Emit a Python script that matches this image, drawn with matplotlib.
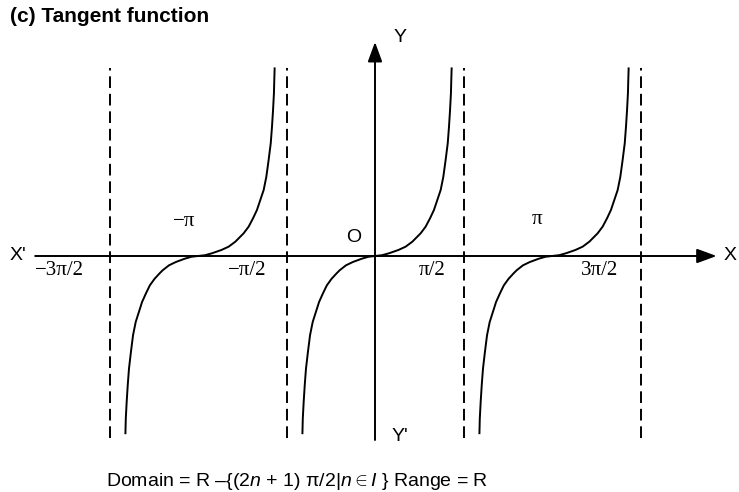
import matplotlib.pyplot as plt
import numpy as np

plt.rcParams['font.family'] = ['Liberation Sans', 'DejaVu Sans']
plt.rcParams['mathtext.fontset'] = 'custom'
plt.rcParams['mathtext.rm'] = 'Liberation Sans'
plt.rcParams['mathtext.it'] = 'Liberation Sans:italic'

# one branch of the curve, x in units of pi, y in arbitrary units
branch_x = [-0.410, -0.408, -0.403, -0.397, -0.390, -0.379, -0.367, -0.352, -0.334, -0.316,
            -0.295, -0.272, -0.245, -0.219, -0.200, -0.164, -0.125, -0.075, -0.038, 0.0,
            0.040, 0.079, 0.132, 0.173, 0.211, 0.230, 0.258, 0.286, 0.311, 0.333,
            0.352, 0.371, 0.386, 0.399, 0.411, 0.418, 0.424, 0.429, 0.431, 0.433]
branch_y = [-4.43, -4.07, -3.65, -3.23, -2.82, -2.40, -1.98, -1.65, -1.40, -1.15,
            -0.943, -0.733, -0.568, -0.443, -0.358, -0.233, -0.15, -0.068, -0.02, 0.0,
            0.02, 0.068, 0.15, 0.233, 0.358, 0.443, 0.568, 0.733, 0.943, 1.15,
            1.40, 1.65, 1.98, 2.40, 2.82, 3.23, 3.65, 4.07, 4.40, 4.69]
centers = [-1, 0, 1]
asymptotes = [-1.5, -0.5, 0.5, 1.5]
tick_labels = ['\u22123\u03c0/2', '\u2212\u03c0/2', '\u03c0/2', '3\u03c0/2']
tick_label_x = [-1.78, -0.723, 0.322, 1.266]
center_labels = ['\u2212\u03c0', '\u03c0']
center_label_pos = [(-1.079, 0.85), (0.915, 0.9)]

fig = plt.figure(figsize=(7.39, 4.92), dpi=100)
ax = fig.add_axes([0, 0, 1, 1])
ax.set_xlim(-375 / 177, (739 - 375) / 177)
ax.set_ylim(-(492 - 256) / 40, 256 / 40)
ax.axis('off')

bx = np.array(branch_x)
by = np.array(branch_y)
for c in centers:
    ax.plot(bx + c, by, color='black', lw=1.4, solid_joinstyle='round')

for a in asymptotes:
    ax.plot([a, a], [-4.55, 4.7], color='black', lw=1.4, dashes=(6, 3))

# axes with arrows
arrow = dict(arrowstyle='-|>,head_length=0.6,head_width=0.22', lw=1.4, color='black',
             mutation_scale=20, shrinkA=0, shrinkB=0)
ax.annotate('', xy=(1.93, 0), xytext=(-1.92, 0), arrowprops=arrow)
ax.annotate('', xy=(0, 5.35), xytext=(0, -4.6), arrowprops=arrow)

ax.text(-2.017, 0, "X'", fontsize=14, ha='center', va='center')
ax.text(2.006, 0, "X", fontsize=14, ha='center', va='center')
ax.text(0.14, 5.45, "Y", fontsize=14, ha='center', va='center')
ax.text(0.14, -4.52, "Y'", fontsize=14, ha='center', va='center')
ax.text(-0.119, 0.475, "O", fontsize=14, ha='center', va='center')

serif = ['Liberation Serif', 'DejaVu Serif']
for x, lab in zip(tick_label_x, tick_labels):
    ax.text(x, -0.37, lab, fontsize=15, family=serif, ha='center', va='center')
for (x, y), lab in zip(center_label_pos, center_labels):
    ax.text(x, y, lab, fontsize=15, family=serif, ha='center', va='center')

fig.text(10 / 739, 1 - 16 / 492, '(c) Tangent function', fontsize=15, fontweight='bold',
         ha='left', va='center')
fig.text(297 / 739, 1 - 481 / 492,
         'Domain = R \u2013{(2$n$ + 1) \u03c0/2|$n\\in I$ } Range = R',
         fontsize=14, ha='center', va='center')

fig.savefig('out.png', dpi=100)
